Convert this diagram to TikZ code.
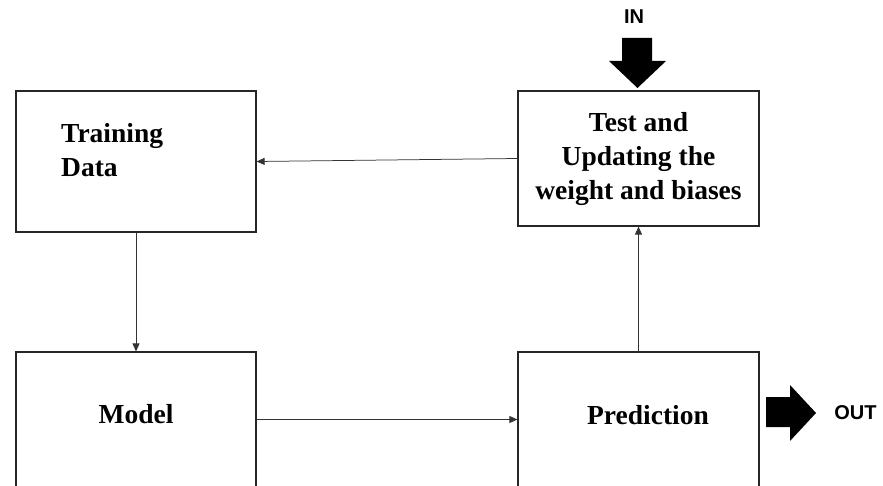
\documentclass[tikz,border=0pt]{standalone}
\usepackage{fontspec}
\setmainfont{Liberation Serif}
\setsansfont{Liberation Sans}
\usetikzlibrary{arrows.meta}
\begin{document}
\begin{tikzpicture}[x=1pt,y=-1pt,
  stage/.style={draw=black!85, line width=1.2pt, inner sep=0pt},
  caption/.style={font=\fontsize{27.5}{34}\selectfont\bfseries, inner sep=0pt},
  flow/.style={draw=black!80, line width=0.75pt, -{Triangle[length=8pt,width=7pt]}},
  tag/.style={font=\sffamily\bfseries\fontsize{20}{24}\selectfont, inner sep=0pt},
  block/.style={fill=black}]
\useasboundingbox (0,0) rectangle (883,486);
\clip (0,0) rectangle (883,486);

% process boxes
\node[stage, minimum width=240pt, minimum height=141pt] (train) at (136,161.5) {};
\node[stage, minimum width=241pt, minimum height=135pt] (test)  at (638.5,158.5) {};
\node[stage, minimum width=240pt, minimum height=135pt] (model) at (136,419.5) {};
\node[stage, minimum width=241pt, minimum height=135pt] (pred)  at (638.5,419.5) {};

% box captions (base anchor sits on the last line)
\node[caption, anchor=base west, align=left] (traintext) at (61,177) {Training\\Data};
\node[caption, anchor=base, align=center] (testtext) at (638.5,200) {Test and\\Updating the\\weight and biases};
\node[caption, anchor=base] (modeltext) at (136,423) {Model};
\node[caption, anchor=base] (predtext) at (648,424) {Prediction};

% connectors
\draw[flow] (test.west) -- (train.east);
\draw[flow] (train.south) -- (model.north);
\draw[flow] (model.east) -- (pred.west);
\draw[flow] (pred.north) -- (test.south);

% input and output block arrows
\fill[block] (622,38) -- (652,38) -- (652,61) -- (666,61) -- (637.5,88) -- (609,61) -- (622,61) -- cycle;
\fill[block] (766,397) -- (790,397) -- (790,385) -- (816,413) -- (790,441) -- (790,427) -- (766,427) -- cycle;
\node[tag] (inlabel) at (634,17) {IN};
\node[tag] (outlabel) at (855.5,413) {OUT};
\end{tikzpicture}
\end{document}
